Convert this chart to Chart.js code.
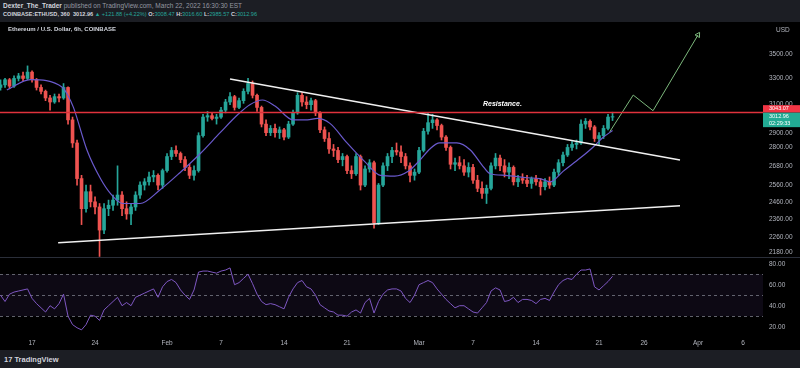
<!DOCTYPE html>
<html lang="en">
<head>
<meta charset="UTF-8">
<title>ETHUSD 6h - Dexter_The_Trader</title>
<script src="https://cdn.jsdelivr.net/npm/chart.js"></script>
<style>
  body { margin:0; width:800px; height:368px; background:#000; overflow:hidden; position:relative;
         font-family:"Liberation Sans", Arial, sans-serif; }
  .top { position:absolute; left:0; top:0; width:800px; height:22px; background:#1c1e24; color:#9598a1; font-size:6.5px; }
  .top div { position:absolute; left:3px; white-space:nowrap; }
  .top b { color:#d1d4dc; }
  .top .l2 { font-size:5.6px; }
  .up { color:#26a69a; }
  .legend { position:absolute; left:8px; top:26px; color:#d1d4dc; font-size:6px; font-weight:bold; z-index:2; }
  .foot { position:absolute; left:0; top:350px; width:800px; height:18px; background:#1c1e24; color:#d1d4dc; font-size:7.5px; }
  .foot span { position:absolute; left:4px; top:5px; font-weight:bold; }
  canvas { position:absolute; left:0; top:22px; }
</style>
</head>
<body>
  <div class="top">
    <div style="top:2px"><b>Dexter_The_Trader</b> published on TradingView.com, March 22, 2022 16:30:30 EST</div>
    <div class="l2" style="top:11px"><b>COINBASE:ETHUSD, 360</b>&nbsp; <b>3012.96</b> <span class="up">▲ +121.88 (+4.22%)</span> <b>O:</b><span class="up">3008.47</span> <b>H:</b><span class="up">3016.60</span> <b>L:</b><span class="up">2985.57</span> <b>C:</b><span class="up">3012.96</span></div>
  </div>
  <div class="legend">Ethereum / U.S. Dollar, 6h, COINBASE</div>
  <canvas id="chart" width="800" height="328"></canvas>
  <div class="foot"><span>17 TradingView</span></div>

<script>
// day-of-year axis (Jan 17 = 17, Feb 1 = 32, Mar 1 = 60 ...), one candle per 12h
const barStart = 13.5;
const barStep = 0.5;

const opens = [
  3230,3250,3290,3240,3300,3320,3300,3350,3290,3230,
  3200,3150,3120,3160,3150,3230,2990,2830,2600,2420,
  2520,2460,2430,2300,2420,2440,2470,2500,2420,2390,
  2430,2500,2560,2580,2610,2620,2560,2650,2740,2780,
  2760,2720,2670,2620,2650,2880,3010,3020,3000,3010,
  3060,3120,3160,3080,3130,3200,3260,3170,3080,2960,
  2900,2930,2900,2920,2870,2960,3040,3170,3120,3100,
  3130,3040,2920,2860,2790,2780,2720,2740,2650,2630,
  2740,2560,2660,2700,2340,2560,2680,2740,2780,2770,
  2740,2680,2620,2640,2780,2910,2970,2990,2950,2870,
  2800,2690,2700,2680,2640,2670,2590,2540,2510,2540,
  2680,2730,2680,2640,2670,2580,2600,2590,2570,2600,
  2580,2550,2580,2560,2640,2700,2750,2800,2820,2830,
  2960,2980,2940,2860,2880,2930,3010
];
const highs = [
  3290,3300,3300,3320,3340,3350,3400,3360,3300,3250,
  3210,3170,3180,3180,3260,3235,3010,2850,2620,2560,
  2560,2490,2450,2450,2470,2500,2680,2520,2460,2450,
  2520,2580,2600,2640,2650,2630,2660,2760,2800,2810,
  2770,2740,2690,2680,2900,3030,3050,3040,3030,3080,
  3140,3190,3170,3150,3220,3300,3280,3180,3090,2990,
  2950,2960,2940,2930,2980,3060,3190,3190,3160,3150,
  3140,3050,2940,2900,2820,2800,2760,2750,2680,2760,
  2750,2680,2720,2710,2570,2700,2760,2800,2830,2810,
  2760,2700,2660,2800,2930,3040,3030,3000,2960,2880,
  2810,2730,2740,2720,2700,2690,2620,2580,2560,2700,
  2760,2750,2720,2700,2680,2620,2630,2620,2610,2620,
  2600,2600,2610,2660,2720,2770,2820,2840,2850,2990,
  3000,2990,2950,2900,2950,3030,3045
];
const lows = [
  3210,3230,3220,3230,3280,3280,3290,3270,3210,3180,
  3130,3060,3110,3120,3140,2960,2800,2560,2330,2400,
  2430,2390,2160,2280,2380,2410,2440,2380,2360,2330,
  2410,2480,2530,2560,2580,2530,2540,2640,2720,2740,
  2700,2650,2600,2590,2640,2870,2980,2990,2960,3000,
  3040,3100,3060,3070,3110,3180,3150,3050,2940,2880,
  2880,2870,2860,2850,2860,2950,3030,3090,3070,3060,
  3020,2900,2840,2760,2740,2700,2680,2630,2600,2620,
  2530,2550,2640,2310,2330,2550,2650,2700,2750,2700,
  2660,2580,2590,2630,2770,2890,2930,2920,2850,2780,
  2660,2650,2660,2620,2610,2570,2520,2480,2450,2530,
  2660,2650,2610,2600,2560,2550,2570,2550,2540,2560,
  2500,2530,2540,2550,2620,2680,2740,2780,2790,2820,
  2930,2920,2840,2820,2860,2920,2985
];
const closes = [
  3250,3290,3240,3300,3320,3300,3350,3290,3230,3200,
  3150,3120,3160,3150,3230,2990,2830,2600,2420,2520,
  2460,2430,2300,2420,2440,2470,2500,2420,2390,2430,
  2500,2560,2580,2610,2620,2560,2650,2740,2780,2760,
  2720,2670,2620,2650,2880,3010,3020,3000,3010,3060,
  3120,3160,3080,3130,3200,3260,3170,3080,2960,2900,
  2930,2900,2920,2870,2960,3040,3170,3120,3100,3130,
  3040,2920,2860,2790,2780,2720,2740,2650,2630,2740,
  2560,2660,2700,2340,2560,2680,2740,2780,2770,2740,
  2680,2620,2640,2780,2910,2970,2990,2950,2870,2800,
  2690,2700,2680,2640,2670,2590,2540,2510,2540,2680,
  2730,2680,2640,2670,2580,2600,2590,2570,2600,2580,
  2550,2580,2560,2640,2700,2750,2800,2820,2830,2960,
  2980,2940,2860,2880,2930,3010,3013
];
const rsiValues = [
  50,44,51,53,54,55,56,47,42,38,
  34,40,37,42,51,30,22,19,17,22,
  31,30,26,36,40,44,48,40,43,40,
  48,50,52,54,56,48,58,63,65,62,
  55,50,46,55,72,73,73,72,71,73,
  74,76,60,62,66,70,61,51,44,41,
  42,41,39,37,48,56,62,64,58,56,
  50,41,38,35,34,31,31,30,34,36,
  33,43,47,33,44,51,55,56,56,54,
  47,43,50,60,62,64,62,56,51,46,
  42,38,40,40,37,34,33,38,43,54,
  57,55,44,45,48,43,46,46,45,42,
  46,47,45,53,60,64,66,65,70,74,
  74,75,58,55,59,63,68
];

// moving average
const maTimes  = [14.2,16.8,20.4,20.9,21.6,23.1,24.6,25.7,27.1,29.0,31.2,33.4,35.7,37.9,39.9,41.2,42.6,44.0,46.0,47.6,48.7,50.1,52.0,54.0,55.7,57.3,58.8,60.1,61.2,62.3,64.2,65.7,67.0,67.9,69.6,72.0,73.4,74.6,76.0,77.9,79.3,80.4,81.5];
const maValues = [3210,3290,3230,3180,3080,2783,2600,2510,2450,2450,2530,2635,2760,2900,3030,3100,3135,3090,2990,2990,3000,2965,2830,2705,2620,2615,2645,2717,2790,2830,2830,2783,2685,2630,2620,2605,2600,2580,2645,2730,2800,2865,2915];

// drawings
const upperTrendTimes = [39.0, 89.0], upperTrendValues = [3295, 2717];
const lowerTrendTimes = [19.9, 89.0], lowerTrendValues = [2232, 2437];
const pathTimes = [81.2, 83.8, 86.0, 91.0], pathValues = [2907, 3172, 3056, 3660];
const resistance = 3043.07;
const resistanceLabelAt = 67.1;
const lastPrice = 3012.96;
const countdown = '02:29:33';

const dateTicks  = [17, 24, 32, 38, 45, 52, 60, 66, 73, 80, 85, 91, 96];
const dateLabels = ['17','24','Feb','7','14','21','Mar','7','14','21','26','Apr','6'];
const priceTicks = [3500, 3300, 3100, 2900, 2800, 2680, 2560, 2460, 2360, 2260, 2180];
const rsiTicks = [80, 60, 40, 20];
const rsiLevels = [70, 50, 30];

const GREEN = '#26a69a', RED = '#ef5350', AXIS = '#b2b5be';
const times = opens.map((_, i) => barStart + i * barStep);
const colors = opens.map((o, i) => closes[i] >= o ? GREEN : RED);

const overlay = {
  id: 'overlay',
  beforeDatasetsDraw(chart) {
    const { ctx, chartArea, scales } = chart;
    const r = scales.rsi;
    const y1 = r.getPixelForValue(rsiLevels[0]), y2 = r.getPixelForValue(rsiLevels[2]);
    ctx.save();
    ctx.fillStyle = 'rgba(126,87,194,0.1)';
    ctx.fillRect(chartArea.left, y1, chartArea.width, y2 - y1);
    ctx.strokeStyle = 'rgba(120,123,134,0.8)';
    ctx.lineWidth = 1;
    ctx.setLineDash([3, 3]);
    rsiLevels.forEach(v => {
      const y = Math.round(r.getPixelForValue(v)) + 0.5;
      ctx.beginPath(); ctx.moveTo(chartArea.left, y); ctx.lineTo(chartArea.right, y); ctx.stroke();
    });
    // pane separator
    ctx.setLineDash([]);
    ctx.strokeStyle = '#2a2e39';
    const sep = Math.round(scales.y.bottom) + 0.5;
    ctx.beginPath(); ctx.moveTo(0, sep); ctx.lineTo(chart.width, sep); ctx.stroke();
    ctx.restore();
  },
  afterDatasetsDraw(chart) {
    const { ctx, chartArea, scales } = chart;
    const yr = scales.y.getPixelForValue(resistance);
    ctx.save();
    ctx.strokeStyle = '#e0323c';
    ctx.lineWidth = 1.3;
    ctx.beginPath(); ctx.moveTo(chartArea.left, yr); ctx.lineTo(chartArea.right, yr); ctx.stroke();
    ctx.fillStyle = '#ffffff';
    ctx.font = 'italic bold 7px "Liberation Sans", Arial, sans-serif';
    ctx.textBaseline = 'alphabetic';
    ctx.fillText('Resistance.', scales.x.getPixelForValue(resistanceLabelAt), yr - 6);
    ctx.restore();
  },
  afterDraw(chart) {
    const { ctx, chartArea, scales } = chart;
    const x0 = chartArea.right, w = chart.width - x0;
    const yl = scales.y.getPixelForValue(lastPrice);
    const gTop = yl - 4, gH = 14.5;
    ctx.save();
    ctx.font = '5.5px "Liberation Sans", Arial, sans-serif';
    ctx.textBaseline = 'middle';
    ctx.fillStyle = '#f23645';
    ctx.fillRect(x0, gTop - 7.5, w, 7.5);
    ctx.fillStyle = '#22ab94';
    ctx.fillRect(x0, gTop, w, gH);
    ctx.fillStyle = '#ffffff';
    ctx.fillText(resistance.toFixed(2), x0 + 6, gTop - 3.7);
    ctx.fillText(lastPrice.toFixed(2), x0 + 6, gTop + 3.8);
    ctx.fillText(countdown, x0 + 6, gTop + 10.5);
    ctx.fillStyle = AXIS;
    ctx.font = '6.5px "Liberation Sans", Arial, sans-serif';
    ctx.fillText('USD', x0 + 13, chartArea.top + 8);
    ctx.restore();
  }
};

const tickFont = { family: '"Liberation Sans", Arial, sans-serif', size: 6.5 };

new Chart(document.getElementById('chart'), {
  type: 'bar',
  data: {
    datasets: [
      { type: 'bar', data: times.map((t, i) => ({ x: t, y: [lows[i], highs[i]] })),
        backgroundColor: colors, barThickness: 1, grouped: false, order: 5, yAxisID: 'y' },
      { type: 'bar', data: times.map((t, i) => ({ x: t, y: [opens[i], closes[i]] })),
        backgroundColor: colors, barThickness: 3, grouped: false, order: 4, yAxisID: 'y' },
      { type: 'line', data: maTimes.map((t, i) => ({ x: t, y: maValues[i] })),
        borderColor: '#6a5acd', borderWidth: 1.2, pointRadius: 0, cubicInterpolationMode: 'monotone', order: 3, yAxisID: 'y' },
      { type: 'line', data: upperTrendTimes.map((t, i) => ({ x: t, y: upperTrendValues[i] })),
        borderColor: '#f0f0f0', borderWidth: 1.5, pointRadius: 0, order: 2, yAxisID: 'y' },
      { type: 'line', data: lowerTrendTimes.map((t, i) => ({ x: t, y: lowerTrendValues[i] })),
        borderColor: '#f0f0f0', borderWidth: 1.5, pointRadius: 0, order: 2, yAxisID: 'y' },
      { type: 'line', data: pathTimes.map((t, i) => ({ x: t, y: pathValues[i] })),
        borderColor: '#7cb87c', borderWidth: 1, order: 1, yAxisID: 'y',
        pointRadius: [0, 0, 0, 3], pointStyle: 'triangle', pointRotation: 31,
        pointBackgroundColor: 'rgba(0,0,0,0)', pointBorderColor: '#7cb87c', pointBorderWidth: 1 },
      { type: 'line', data: times.map((t, i) => ({ x: t, y: rsiValues[i] })),
        borderColor: '#7e57c2', borderWidth: 1, pointRadius: 0, order: 1, yAxisID: 'rsi' }
    ]
  },
  options: {
    responsive: false,
    animation: false,
    devicePixelRatio: 1,
    layout: { padding: 0, autoPadding: false },
    plugins: { legend: { display: false }, tooltip: { enabled: false } },
    scales: {
      x: {
        type: 'linear', min: 13.44, max: 98.22, offset: false,
        grid: { display: false, drawTicks: false }, border: { display: false },
        afterBuildTicks: s => { s.ticks = dateTicks.map(v => ({ value: v })); },
        afterFit: s => { s.height = 15; s.paddingLeft = 0; s.paddingRight = 0; },
        ticks: { color: AXIS, font: tickFont, padding: 4, autoSkip: false, maxRotation: 0,
                 callback: v => dateLabels[dateTicks.indexOf(v)] }
      },
      y: {
        type: 'logarithmic', position: 'right', stack: 'panes', stackWeight: 235,
        min: 2157.1, max: 3774.6,
        grid: { display: false, drawTicks: false }, border: { display: false },
        afterBuildTicks: s => { s.ticks = priceTicks.map(v => ({ value: v })); },
        afterFit: s => { s.width = 37; s.paddingTop = 0; s.paddingBottom = 0; },
        ticks: { color: AXIS, font: tickFont, padding: 6, autoSkip: false, callback: v => Number(v).toFixed(2) }
      },
      rsi: {
        type: 'linear', position: 'right', stack: 'panes', stackWeight: 78,
        min: 12.1, max: 86.4,
        grid: { display: false, drawTicks: false }, border: { display: false },
        afterBuildTicks: s => { s.ticks = rsiTicks.map(v => ({ value: v })); },
        afterFit: s => { s.width = 37; s.paddingTop = 0; s.paddingBottom = 0; },
        ticks: { color: AXIS, font: tickFont, padding: 6, autoSkip: false, callback: v => Number(v).toFixed(2) }
      }
    }
  },
  plugins: [overlay]
});
</script>
</body>
</html>
